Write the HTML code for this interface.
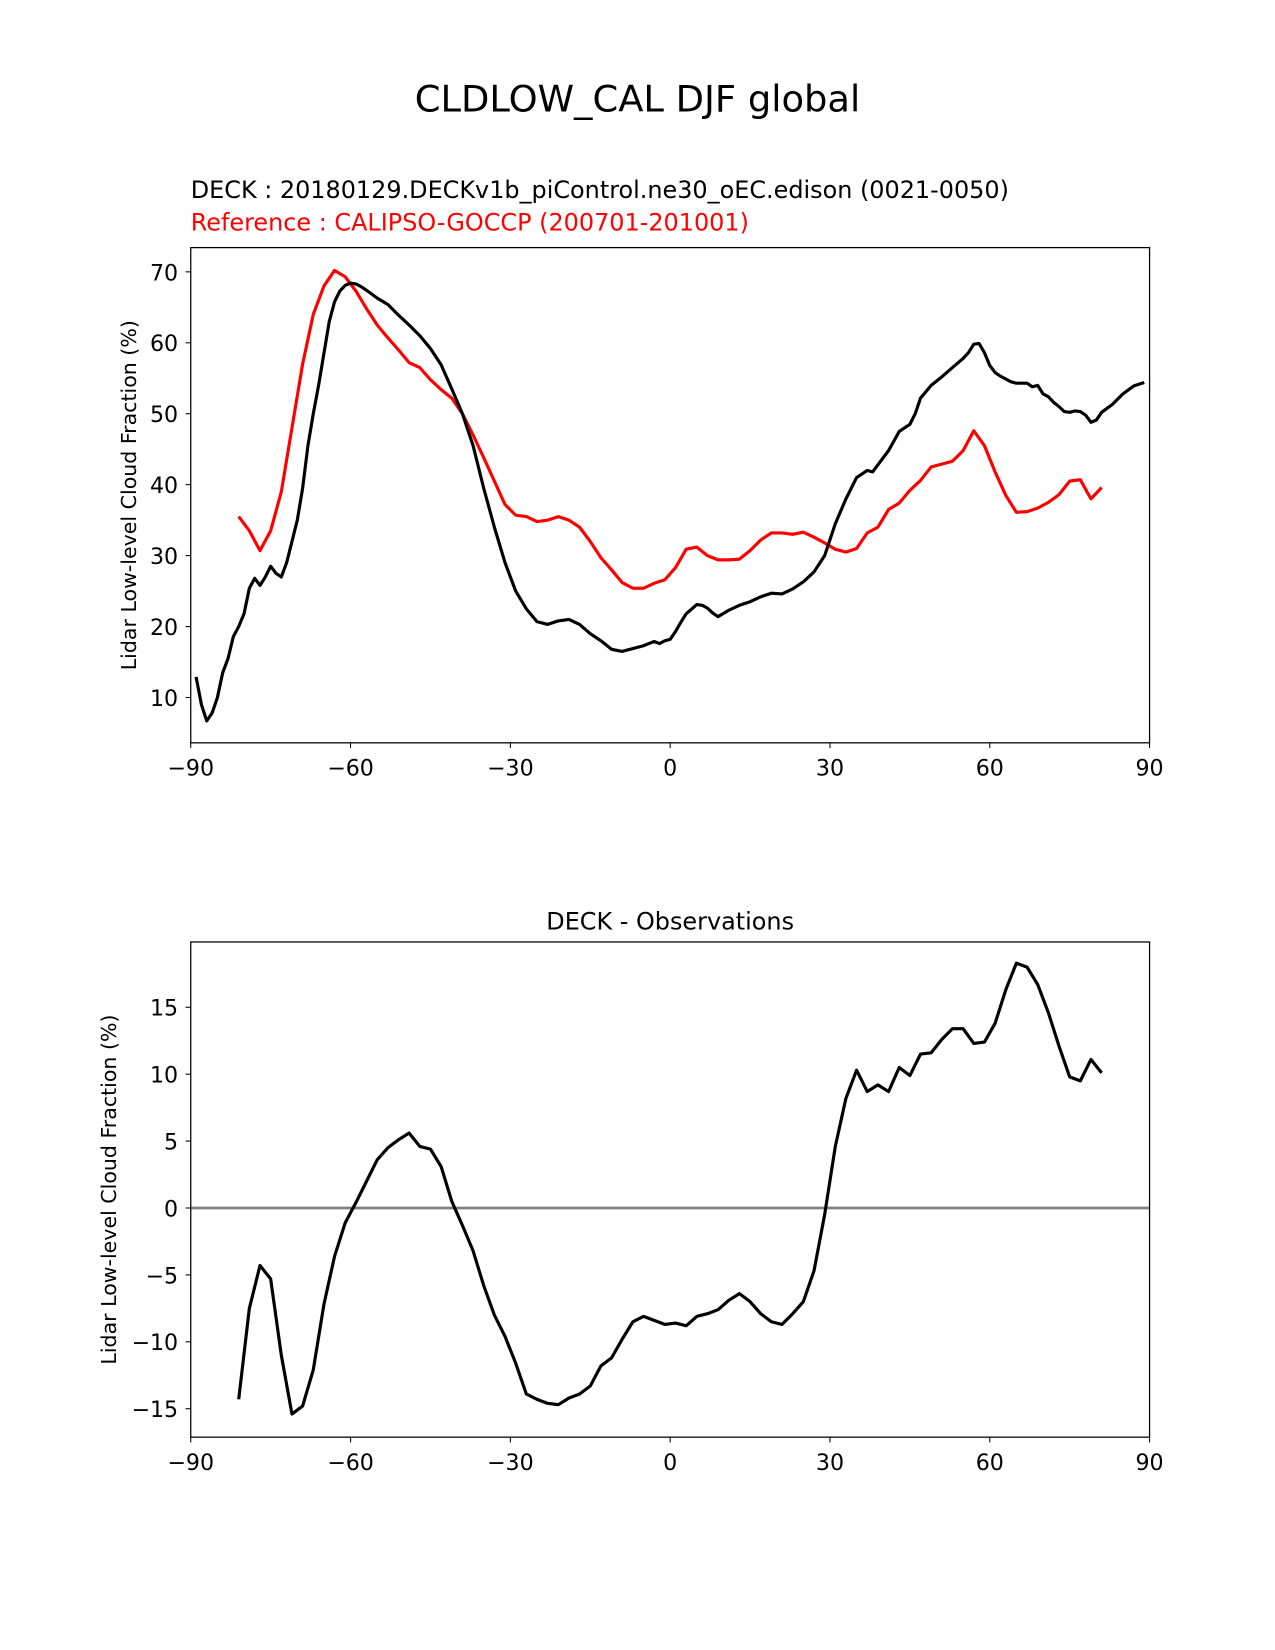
<!DOCTYPE html>
<html><head><meta charset="utf-8"><style>
body{margin:0;background:#fff;}
svg{display:block;font-family:"DejaVu Sans","Liberation Sans",sans-serif;}
</style></head><body>
<svg id="fig" width="1275" height="1650" viewBox="0 0 1210 1566" xmlns="http://www.w3.org/2000/svg">
<text x="605" y="106" font-size="35" text-anchor="middle">CLDLOW_CAL DJF global</text>
<text x="181" y="188" font-size="22.7">DECK : 20180129.DECKv1b_piControl.ne30_oEC.edison (0021-0050)</text>
<text x="181" y="219" font-size="22.7" fill="#ff0000">Reference : CALIPSO-GOCCP (200701-201001)</text>
<text x="636" y="882" font-size="22.7" text-anchor="middle">DECK - Observations</text>
<g id="top"></g>
<g id="bot"></g>
</svg>
<script>
const xTicks=[-90,-60,-30,0,30,60,90];
const topYTicks=[10,20,30,40,50,60,70];
const botYTicks=[-15,-10,-5,0,5,10,15];
const refLat=[-81,-79,-77,-75,-73,-71,-69,-67,-65,-63,-61,-59,-57,-55,-53,-51,-49,-47,-45,-43,-41,-39,-37,-35,-33,-31,-29,-27,-25,-23,-21,-19,-17,-15,-13,-11,-9,-7,-5,-3,-1,1,3,5,7,9,11,13,15,17,19,21,23,25,27,29,31,33,35,37,39,41,43,45,47,49,51,53,55,57,59,61,63,65,67,69,71,73,75,77,79,81];
const refVal=[35.5,33.5,30.7,33.5,39,48,57,64,68,70.2,69.3,67.3,64.8,62.5,60.7,59,57.2,56.5,54.8,53.4,52.2,50,47,43.8,40.5,37.2,35.7,35.5,34.8,35,35.5,35,34,32,29.7,28,26.2,25.4,25.4,26.1,26.6,28.3,30.9,31.2,30,29.4,29.4,29.5,30.7,32.2,33.2,33.2,33.0,33.3,32.6,31.8,30.9,30.5,31,33.2,34,36.5,37.4,39.2,40.6,42.5,42.9,43.3,44.8,47.6,45.5,41.8,38.5,36.1,36.2,36.7,37.5,38.6,40.5,40.7,38,39.6];
const modLat=[-89,-88,-87,-86,-85,-84,-83,-82,-81,-80,-79,-78,-77,-76,-75,-74,-73,-72,-71,-70,-69,-68,-67,-66,-65,-64,-63,-62,-61,-60,-59,-58,-57,-55,-53,-51,-49,-47,-45,-43,-41,-39,-37,-35,-33,-31,-29,-27,-25,-23,-21,-19,-17,-15,-13,-11,-9,-7,-5,-3,-2,-1,0,1,2,3,5,6,7,8,9,11,13,15,17,19,21,23,25,27,29,31,33,35,37,38,39,41,43,45,46,47,49,51,53,55,56,57,58,59,60,61,62,63,64,65,66,67,68,69,70,71,72,73,74,75,76,77,78,79,80,81,83,85,87,89];
const modVal=[12.9,9,6.7,7.8,10,13.5,15.5,18.6,20,21.8,25.4,26.8,25.8,27,28.5,27.5,27,29,32,35,39.5,45.5,50,54,58.5,63,65.8,67.3,68.1,68.4,68.3,67.9,67.4,66.3,65.4,63.9,62.5,61,59.2,56.9,53.5,50,45.5,39.5,34,29,25,22.5,20.7,20.3,20.8,21,20.3,19,18,16.8,16.5,16.9,17.3,17.9,17.6,18,18.2,19.3,20.6,21.8,23.1,23,22.6,21.9,21.4,22.3,23,23.5,24.2,24.7,24.6,25.3,26.3,27.7,30,34.5,38,41,42,41.8,42.8,44.8,47.5,48.5,50,52.2,54,55.2,56.5,57.8,58.6,59.8,59.9,58.6,56.8,55.8,55.3,54.9,54.5,54.3,54.3,54.3,53.8,54,52.8,52.4,51.6,51,50.3,50.2,50.4,50.3,49.8,48.8,49.1,50.2,51.3,52.8,53.9,54.4];
const diffVal=[-14.3,-7.5,-4.3,-5.3,-11,-15.4,-14.8,-12.1,-7.2,-3.6,-1.1,0.4,2,3.6,4.5,5.1,5.6,4.6,4.4,3.1,0.5,-1.3,-3.2,-5.8,-8,-9.6,-11.6,-13.9,-14.3,-14.6,-14.7,-14.2,-13.9,-13.3,-11.8,-11.2,-9.8,-8.5,-8.1,-8.4,-8.7,-8.6,-8.8,-8.1,-7.9,-7.6,-6.9,-6.4,-7,-7.9,-8.5,-8.7,-7.9,-7,-4.7,-0.5,4.6,8.2,10.3,8.7,9.2,8.7,10.5,9.9,11.5,11.6,12.6,13.4,13.4,12.3,12.4,13.8,16.3,18.3,18,16.7,14.6,12.1,9.8,9.5,11.1,10.1];

const NS='http://www.w3.org/2000/svg';
function mk(p,t,a){const e=document.createElementNS(NS,t);for(const k in a)e.setAttribute(k,a[k]);p.appendChild(e);return e;}
function panel(g,top,bot,y0v,y0p,y1v,y1p,yTicks,nameP){
  const X=v=>181+(v+90)/180*910;
  const Y=v=>y0p+(v-y0v)/(y1v-y0v)*(y1p-y0p);
  xTicks.forEach(t=>{
    const l=mk(g,'line',{x1:X(t),x2:X(t),y1:bot,y2:bot+5,stroke:'#000'});
    
    
    const tx=mk(g,'text',{x:X(t),y:bot+31,'font-size':21,'text-anchor':'middle'});
    tx.textContent=t<0?'\u2212'+(-t):String(t);
    
    
  });
  yTicks.forEach(t=>{
    const l=mk(g,'line',{x1:176,x2:181,y1:Y(t),y2:Y(t),stroke:'#000'});
    
    
    const tx=mk(g,'text',{x:169,y:Y(t)+8,'font-size':21,'text-anchor':'end'});
    tx.textContent=t<0?'\u2212'+(-t):String(t);
    
    
  });
  const cy=(top+bot)/2, lx=nameP==='top'?129:110;
  const yt=mk(g,'text',{x:lx,y:cy,'font-size':19.5,'text-anchor':'middle',transform:`rotate(-90 ${lx} ${cy})`});
  yt.textContent='Lidar Low-level Cloud Fraction (%)';
  
  
  return {X,Y};
}
function line(g,xs,ys,X,Y,col,name){
  const p=mk(g,'polyline',{points:xs.map((x,i)=>X(x)+','+Y(ys[i])).join(' '),fill:'none',stroke:col,'stroke-width':3,'stroke-linejoin':'round'});
  
  
}
const gt=document.getElementById('top');
const a=panel(gt,235,705,70,258,10,662,topYTicks,'top');
line(gt,refLat,refVal,a.X,a.Y,'#ff0000','reference-line');
line(gt,modLat,modVal,a.X,a.Y,'#000','model-line');
const f1=mk(gt,'rect',{x:181,y:235,width:910,height:470,fill:'none',stroke:'#000','stroke-width':1.2});


const gb=document.getElementById('bot');
const b=panel(gb,894,1364,15,956,-15,1337,botYTicks,'diff');
const z=mk(gb,'line',{x1:181,x2:1091,y1:b.Y(0),y2:b.Y(0),stroke:'#808080','stroke-width':2.5});


line(gb,refLat,diffVal,b.X,b.Y,'#000','difference-line');
const f2=mk(gb,'rect',{x:181,y:894,width:910,height:470,fill:'none',stroke:'#000','stroke-width':1.2});


</script>
</body></html>
